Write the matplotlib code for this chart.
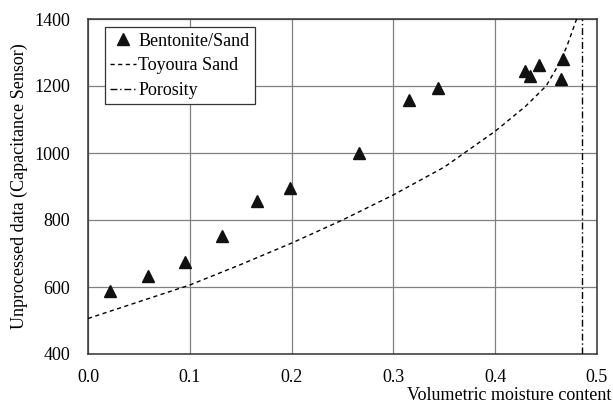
import matplotlib
matplotlib.use("Agg")
import matplotlib.pyplot as plt
import numpy as np

plt.rcParams['font.family'] = ['Liberation Serif', 'DejaVu Serif']

# Bentonite/Sand measurements
bento_theta = [0.022, 0.059, 0.095, 0.132, 0.166, 0.198, 0.266, 0.315, 0.344,
               0.429, 0.434, 0.443, 0.467, 0.465]
bento_raw = [589, 633, 675, 753, 858, 895, 1001, 1158, 1195,
             1246, 1230, 1262, 1280, 1221]

# Toyoura Sand calibration curve
sand_theta = [0.00, 0.05, 0.10, 0.15, 0.20, 0.25, 0.30, 0.35, 0.40, 0.43,
              0.45, 0.46, 0.47, 0.48]
sand_raw = [506, 556, 606, 667, 731, 800, 875, 958, 1065, 1140,
            1200, 1252, 1315, 1400]

porosity = 0.485

xticks = [0.0, 0.1, 0.2, 0.3, 0.4, 0.5]
yticks = [400, 600, 800, 1000, 1200, 1400]

FS = 13

fig = plt.figure(figsize=(6.13, 4.05), dpi=100)
ax = fig.add_axes([88 / 613, 1 - 354 / 405, (597 - 88) / 613, (354 - 19) / 405])

ax.plot(sand_theta, sand_raw, color='black', lw=1.0, linestyle=(0, (3, 2.5)),
        label='Toyoura Sand', zorder=3)
ax.axvline(porosity, color='black', lw=1.0, linestyle=(0, (5, 2, 1, 2)),
           label='Porosity', zorder=3)
ax.plot(bento_theta, bento_raw, linestyle='none', marker='^', ms=8.5,
        color='#111111', label='Bentonite/Sand', zorder=4)

ax.set_xlim(0, 0.5)
ax.set_ylim(400, 1400)
ax.set_xticks(xticks)
ax.set_xticklabels([f"{v:.1f}" for v in xticks])
ax.set_yticks(yticks)
ax.set_yticklabels([str(v) for v in yticks])
ax.tick_params(axis='both', length=0, labelsize=FS)
ax.tick_params(axis='y', pad=13)
ax.tick_params(axis='x', pad=11)
ax.grid(True, color='#808080', lw=0.9)
ax.set_axisbelow(True)
for s in ax.spines.values():
    s.set_color('#333333')
    s.set_linewidth(1.1)

handles, labels = ax.get_legend_handles_labels()
order = [2, 0, 1]
leg = ax.legend([handles[i] for i in order], [labels[i] for i in order],
                loc='upper left', bbox_to_anchor=(0.033, 0.975), fontsize=FS,
                frameon=True, fancybox=False, edgecolor='#333333',
                handlelength=1.45, handletextpad=0.1, borderpad=0.3,
                labelspacing=0.42, borderaxespad=0)
leg.get_frame().set_linewidth(0.9)
leg.get_frame().set_alpha(1)

ax.set_ylabel('Unprocessed data (Capacitance Sensor)', fontsize=FS)
ax.yaxis.set_label_coords(-0.118, 0.5)
fig.text(611 / 613, 1 - 396 / 405, 'Volumetric moisture content', fontsize=FS,
         ha='right', va='center')

fig.savefig('out.png', dpi=100)
